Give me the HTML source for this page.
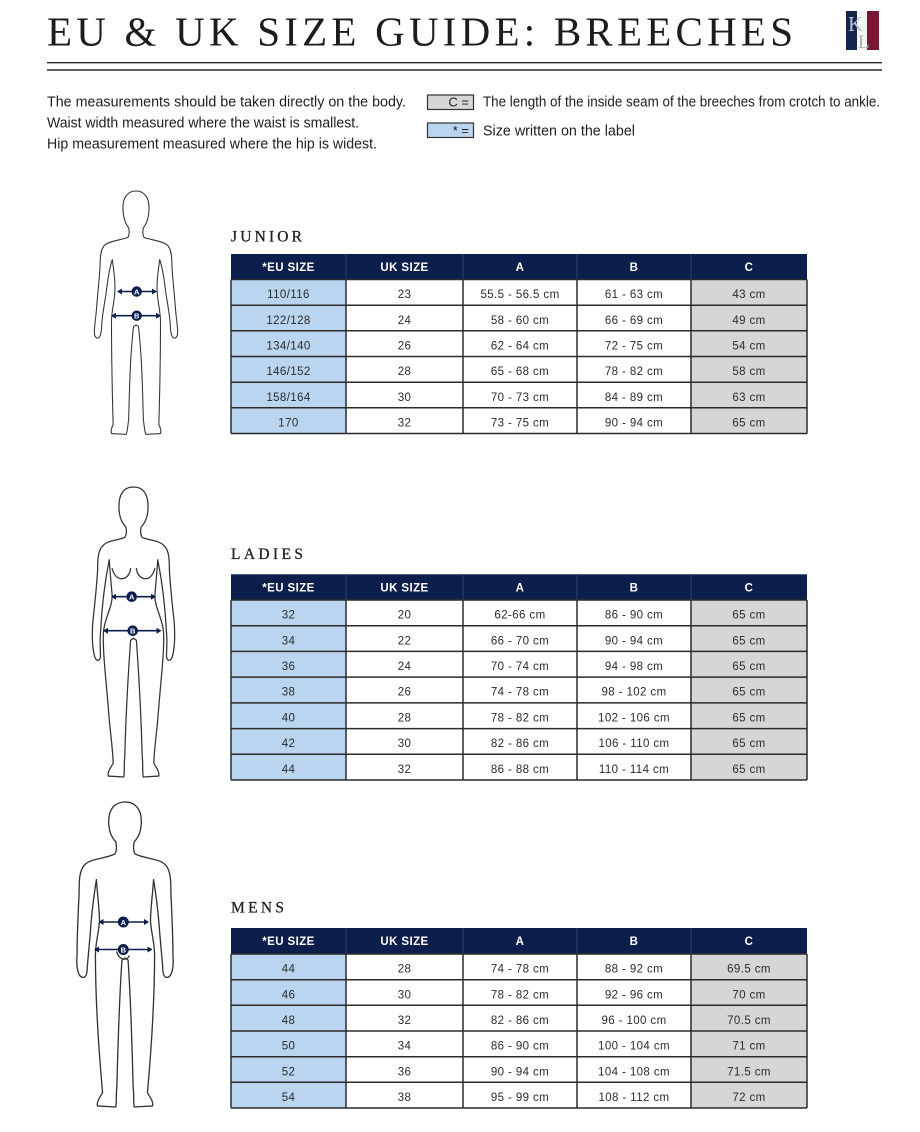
<!DOCTYPE html>
<html><head><meta charset="utf-8"><style>
html,body{margin:0;padding:0;background:#fff;}
svg{display:block;}
.c{font-family:"Liberation Sans",sans-serif;font-size:11.5px;fill:#2b2b2b;text-anchor:middle;letter-spacing:0.4px;}
.h{font-family:"Liberation Sans",sans-serif;font-size:11.5px;font-weight:bold;fill:#fff;text-anchor:middle;letter-spacing:0.4px;}
.b{font-family:"Liberation Sans",sans-serif;font-size:15px;fill:#1e1e1e;}
.sec{font-family:"Liberation Serif",serif;font-size:15.5px;fill:#222;stroke:#222;stroke-width:0.3;}
.fig{fill:none;stroke:#333;stroke-width:1.3;stroke-linejoin:round;stroke-linecap:round;}
.hl{stroke:#2b2b2b;stroke-width:1.5;}
.hv{stroke:#33416b;stroke-width:1;}
.ar{stroke:#0c1e4c;stroke-width:1.6;}
.at{fill:#0c1e4c;}
.al{font-family:"Liberation Sans",sans-serif;font-size:7.5px;font-weight:bold;fill:#fff;text-anchor:middle;}
</style></head><body>
<svg width="920" height="1132" viewBox="0 0 920 1132" xmlns="http://www.w3.org/2000/svg">
<defs>
<path id="fJ" d="M0,0 C10,0 16,8 16,20 C16,32 13,40 9,45 C8,50 8,54 10,57 C18,60 32,61 38,66 C43,70 44,80 44,92 C45,110 47,125 48,140 C49,155 51,165 51,172 C51,179 48,182 45,179 C43,176 42,170 42,164 C41,150 39,140 37,128 C35,112 33,96 29,84 C27,100 25,112 26,125 C27,138 30,148 30,160 C30,200 29,250 28,286 C30,290 31,294 30,297 L12,298 C10,292 10,286 9,280 C8,240 7,200 3,166 L0,164"/>
<path id="fL" d="M0,0 C10,0 15,7 15,20 C15,30 12,37 8,41 C7,45 7,49 9,52 C16,55 26,55 31,60 C36,64 37,72 37,85 C38,105 40,120 42,140 C43,155 42,168 40,175 C38,180 35,180 34,175 C34,168 35,160 34,150 C33,130 31,105 25,75 C24,90 23,100 22,112 C22,125 30,135 31,150 C32,170 28,200 25,240 C23,260 21,275 21,285 C24,290 27,294 26,298 L10,299 C9,292 10,286 9,278 C8,240 6,200 3,158 L0,156 M3,84 C4,96 18,100 22,84"/>
<path id="fM" d="M0,0 C10,0 16,7 16,19 C16,28 13,35 9,39 C8,44 8,48 10,51 C20,56 34,55 40,62 C45,68 45,78 45,90 C46,110 47,135 47,150 C48,162 46,172 41,172 C38,172 37,168 37,162 C36,150 35,140 34,128 C33,112 31,95 28,76 C27,92 25,105 25,117 C26,130 29,138 29,150 C29,190 26,240 22,285 C25,290 28,294 27,298 L9,299 C8,293 9,287 8,280 C7,240 6,200 3,155 L0,153"/>
</defs>

<!-- Title -->
<text x="47" y="45.7" font-family="Liberation Serif, serif" font-size="41" fill="#1c1c1c" textLength="746" lengthAdjust="spacing">EU &amp; UK SIZE GUIDE: BREECHES</text>
<!-- Logo -->
<rect x="846" y="11" width="11" height="39" fill="#14244f"/>
<rect x="857" y="11" width="10" height="39" fill="#f4f4f4"/>
<rect x="867" y="11" width="12" height="39" fill="#7a1632"/>
<text x="848" y="31" font-family="Liberation Serif, serif" font-size="21" fill="#b9c3d6">K</text>
<text x="858" y="48" font-family="Liberation Serif, serif" font-size="19" fill="#a9aebb">L</text>
<!-- Rules -->
<line x1="47" y1="62.7" x2="882" y2="62.7" stroke="#2a2a2a" stroke-width="1.4"/>
<line x1="47" y1="70" x2="882" y2="70" stroke="#2a2a2a" stroke-width="1.4"/>

<!-- Intro text -->
<text class="b" x="47" y="106.5" textLength="359" lengthAdjust="spacingAndGlyphs">The measurements should be taken directly on the body.</text>
<text class="b" x="47" y="127.5" textLength="312" lengthAdjust="spacingAndGlyphs">Waist width measured where the waist is smallest.</text>
<text class="b" x="47" y="148.5" textLength="330" lengthAdjust="spacingAndGlyphs">Hip measurement measured where the hip is widest.</text>

<rect x="427.5" y="95" width="46" height="14.5" fill="#d6d6d6" stroke="#333" stroke-width="1.2"/>
<text x="469" y="106.5" font-family="Liberation Sans, sans-serif" font-size="13" fill="#1e1e1e" text-anchor="end">C =</text>
<rect x="427.5" y="123" width="46" height="14.5" fill="#b9d5f0" stroke="#333" stroke-width="1.2"/>
<text x="469" y="135" font-family="Liberation Sans, sans-serif" font-size="13" fill="#1e1e1e" text-anchor="end">* =</text>
<text class="b" x="483" y="106.5" textLength="397" lengthAdjust="spacingAndGlyphs">The length of the inside seam of the breeches from crotch to ankle.</text>
<text class="b" x="483" y="135.5" textLength="152" lengthAdjust="spacingAndGlyphs">Size written on the label</text>

<!-- Figures -->
<g transform="translate(136,191) scale(0.8167)">
<use href="#fJ" class="fig" style="vector-effect:non-scaling-stroke"/>
<use href="#fJ" class="fig" transform="scale(-1,1)" style="vector-effect:non-scaling-stroke"/>
</g>
<g transform="translate(133.5,487) scale(0.97)">
<use href="#fL" class="fig" style="vector-effect:non-scaling-stroke"/>
<use href="#fL" class="fig" transform="scale(-1,1)" style="vector-effect:non-scaling-stroke"/>
</g>
<g transform="translate(125,802) scale(1.02)">
<use href="#fM" class="fig" style="vector-effect:non-scaling-stroke"/>
<use href="#fM" class="fig" transform="scale(-1,1)" style="vector-effect:non-scaling-stroke"/>
<path class="fig" style="vector-effect:non-scaling-stroke" d="M-8,147 C-6,155 2,156 4,151"/>
</g>

<!-- Arrows junior -->
<line class="ar" x1="118" y1="291.5" x2="156" y2="291.5"/>
<path class="at" d="M117,291.5 l5,-3 v6 z M157,291.5 l-5,-3 v6 z"/>
<circle cx="136.7" cy="291.5" r="5.2" class="at"/>
<text class="al" x="136.7" y="294.3">A</text>
<line class="ar" x1="112" y1="315.7" x2="160" y2="315.7"/>
<path class="at" d="M111,315.7 l5,-3 v6 z M161,315.7 l-5,-3 v6 z"/>
<circle cx="136.7" cy="315.7" r="5.2" class="at"/>
<text class="al" x="136.7" y="318.5">B</text>
<!-- Arrows ladies -->
<line class="ar" x1="112" y1="596.7" x2="155" y2="596.7"/>
<path class="at" d="M111,596.7 l5,-3 v6 z M156,596.7 l-5,-3 v6 z"/>
<circle cx="131.7" cy="596.7" r="5.3" class="at"/>
<text class="al" x="131.7" y="599.5">A</text>
<line class="ar" x1="104" y1="630.7" x2="160.5" y2="630.7"/>
<path class="at" d="M103,630.7 l5,-3 v6 z M161.5,630.7 l-5,-3 v6 z"/>
<circle cx="132.7" cy="630.7" r="5.3" class="at"/>
<text class="al" x="132.7" y="633.5">B</text>
<!-- Arrows mens -->
<line class="ar" x1="99.5" y1="922" x2="148" y2="922"/>
<path class="at" d="M98.5,922 l5,-3 v6 z M149,922 l-5,-3 v6 z"/>
<circle cx="123.3" cy="922" r="5.5" class="at"/>
<text class="al" x="123.3" y="924.8">A</text>
<line class="ar" x1="95" y1="949.5" x2="151.5" y2="949.5"/>
<path class="at" d="M94,949.5 l5,-3 v6 z M152.5,949.5 l-5,-3 v6 z"/>
<circle cx="123.3" cy="949.5" r="5.5" class="at"/>
<text class="al" x="123.3" y="952.3">B</text>

<!-- JUNIOR -->
<text class="sec" x="231" y="241.5" textLength="71" lengthAdjust="spacing">JUNIOR</text>
<rect x="231" y="254" width="576" height="25.5" fill="#0c1e4c"/>
<rect x="231" y="279.5" width="115" height="154" fill="#b9d5f0"/>
<rect x="691" y="279.5" width="116" height="154" fill="#d6d6d6"/>
<g class="hv"><line x1="346" y1="254" x2="346" y2="279.5"/><line x1="463" y1="254" x2="463" y2="279.5"/><line x1="577" y1="254" x2="577" y2="279.5"/><line x1="691" y1="254" x2="691" y2="279.5"/></g>
<g class="hl">
<line x1="231" y1="279.5" x2="807" y2="279.5"/><line x1="231" y1="305.2" x2="807" y2="305.2"/><line x1="231" y1="330.8" x2="807" y2="330.8"/><line x1="231" y1="356.5" x2="807" y2="356.5"/><line x1="231" y1="382.2" x2="807" y2="382.2"/><line x1="231" y1="407.8" x2="807" y2="407.8"/><line x1="231" y1="433.5" x2="807" y2="433.5"/>
<line x1="231" y1="279.5" x2="231" y2="433.5"/><line x1="346" y1="279.5" x2="346" y2="433.5"/><line x1="463" y1="279.5" x2="463" y2="433.5"/><line x1="577" y1="279.5" x2="577" y2="433.5"/><line x1="691" y1="279.5" x2="691" y2="433.5"/><line x1="807" y1="279.5" x2="807" y2="433.5"/>
</g>
<text class="h" x="288.5" y="271">*EU SIZE</text><text class="h" x="404.5" y="271">UK SIZE</text><text class="h" x="520" y="271">A</text><text class="h" x="634" y="271">B</text><text class="h" x="749" y="271">C</text>
<text class="c" x="288.5" y="298.1">110/116</text><text class="c" x="404.5" y="298.1">23</text><text class="c" x="520" y="298.1">55.5 - 56.5 cm</text><text class="c" x="634" y="298.1">61 - 63 cm</text><text class="c" x="749" y="298.1">43 cm</text>
<text class="c" x="288.5" y="323.8">122/128</text><text class="c" x="404.5" y="323.8">24</text><text class="c" x="520" y="323.8">58 - 60 cm</text><text class="c" x="634" y="323.8">66 - 69 cm</text><text class="c" x="749" y="323.8">49 cm</text>
<text class="c" x="288.5" y="349.4">134/140</text><text class="c" x="404.5" y="349.4">26</text><text class="c" x="520" y="349.4">62 - 64 cm</text><text class="c" x="634" y="349.4">72 - 75 cm</text><text class="c" x="749" y="349.4">54 cm</text>
<text class="c" x="288.5" y="375.1">146/152</text><text class="c" x="404.5" y="375.1">28</text><text class="c" x="520" y="375.1">65 - 68 cm</text><text class="c" x="634" y="375.1">78 - 82 cm</text><text class="c" x="749" y="375.1">58 cm</text>
<text class="c" x="288.5" y="400.8">158/164</text><text class="c" x="404.5" y="400.8">30</text><text class="c" x="520" y="400.8">70 - 73 cm</text><text class="c" x="634" y="400.8">84 - 89 cm</text><text class="c" x="749" y="400.8">63 cm</text>
<text class="c" x="288.5" y="426.4">170</text><text class="c" x="404.5" y="426.4">32</text><text class="c" x="520" y="426.4">73 - 75 cm</text><text class="c" x="634" y="426.4">90 - 94 cm</text><text class="c" x="749" y="426.4">65 cm</text>

<!-- LADIES -->
<text class="sec" x="231" y="559" textLength="72" lengthAdjust="spacing">LADIES</text>
<rect x="231" y="574.3" width="576" height="25.7" fill="#0c1e4c"/>
<rect x="231" y="600" width="115" height="180" fill="#b9d5f0"/>
<rect x="691" y="600" width="116" height="180" fill="#d6d6d6"/>
<g class="hv"><line x1="346" y1="574.3" x2="346" y2="600"/><line x1="463" y1="574.3" x2="463" y2="600"/><line x1="577" y1="574.3" x2="577" y2="600"/><line x1="691" y1="574.3" x2="691" y2="600"/></g>
<g class="hl">
<line x1="231" y1="600" x2="807" y2="600"/><line x1="231" y1="625.7" x2="807" y2="625.7"/><line x1="231" y1="651.4" x2="807" y2="651.4"/><line x1="231" y1="677.1" x2="807" y2="677.1"/><line x1="231" y1="702.9" x2="807" y2="702.9"/><line x1="231" y1="728.6" x2="807" y2="728.6"/><line x1="231" y1="754.3" x2="807" y2="754.3"/><line x1="231" y1="780" x2="807" y2="780"/>
<line x1="231" y1="600" x2="231" y2="780"/><line x1="346" y1="600" x2="346" y2="780"/><line x1="463" y1="600" x2="463" y2="780"/><line x1="577" y1="600" x2="577" y2="780"/><line x1="691" y1="600" x2="691" y2="780"/><line x1="807" y1="600" x2="807" y2="780"/>
</g>
<text class="h" x="288.5" y="591.3">*EU SIZE</text><text class="h" x="404.5" y="591.3">UK SIZE</text><text class="h" x="520" y="591.3">A</text><text class="h" x="634" y="591.3">B</text><text class="h" x="749" y="591.3">C</text>
<text class="c" x="288.5" y="618.6">32</text><text class="c" x="404.5" y="618.6">20</text><text class="c" x="520" y="618.6">62-66 cm</text><text class="c" x="634" y="618.6">86 - 90 cm</text><text class="c" x="749" y="618.6">65 cm</text>
<text class="c" x="288.5" y="644.3">34</text><text class="c" x="404.5" y="644.3">22</text><text class="c" x="520" y="644.3">66 - 70 cm</text><text class="c" x="634" y="644.3">90 - 94 cm</text><text class="c" x="749" y="644.3">65 cm</text>
<text class="c" x="288.5" y="670">36</text><text class="c" x="404.5" y="670">24</text><text class="c" x="520" y="670">70 - 74 cm</text><text class="c" x="634" y="670">94 - 98 cm</text><text class="c" x="749" y="670">65 cm</text>
<text class="c" x="288.5" y="695.7">38</text><text class="c" x="404.5" y="695.7">26</text><text class="c" x="520" y="695.7">74 - 78 cm</text><text class="c" x="634" y="695.7">98 - 102 cm</text><text class="c" x="749" y="695.7">65 cm</text>
<text class="c" x="288.5" y="721.5">40</text><text class="c" x="404.5" y="721.5">28</text><text class="c" x="520" y="721.5">78 - 82 cm</text><text class="c" x="634" y="721.5">102 - 106 cm</text><text class="c" x="749" y="721.5">65 cm</text>
<text class="c" x="288.5" y="747.2">42</text><text class="c" x="404.5" y="747.2">30</text><text class="c" x="520" y="747.2">82 - 86 cm</text><text class="c" x="634" y="747.2">106 - 110 cm</text><text class="c" x="749" y="747.2">65 cm</text>
<text class="c" x="288.5" y="772.9">44</text><text class="c" x="404.5" y="772.9">32</text><text class="c" x="520" y="772.9">86 - 88 cm</text><text class="c" x="634" y="772.9">110 - 114 cm</text><text class="c" x="749" y="772.9">65 cm</text>

<!-- MENS -->
<text class="sec" x="231" y="912.3" textLength="53" lengthAdjust="spacing">MENS</text>
<rect x="231" y="928" width="576" height="26" fill="#0c1e4c"/>
<rect x="231" y="954" width="115" height="154" fill="#b9d5f0"/>
<rect x="691" y="954" width="116" height="154" fill="#d6d6d6"/>
<g class="hv"><line x1="346" y1="928" x2="346" y2="954"/><line x1="463" y1="928" x2="463" y2="954"/><line x1="577" y1="928" x2="577" y2="954"/><line x1="691" y1="928" x2="691" y2="954"/></g>
<g class="hl">
<line x1="231" y1="954" x2="807" y2="954"/><line x1="231" y1="979.7" x2="807" y2="979.7"/><line x1="231" y1="1005.3" x2="807" y2="1005.3"/><line x1="231" y1="1031" x2="807" y2="1031"/><line x1="231" y1="1056.7" x2="807" y2="1056.7"/><line x1="231" y1="1082.3" x2="807" y2="1082.3"/><line x1="231" y1="1108" x2="807" y2="1108"/>
<line x1="231" y1="954" x2="231" y2="1108"/><line x1="346" y1="954" x2="346" y2="1108"/><line x1="463" y1="954" x2="463" y2="1108"/><line x1="577" y1="954" x2="577" y2="1108"/><line x1="691" y1="954" x2="691" y2="1108"/><line x1="807" y1="954" x2="807" y2="1108"/>
</g>
<text class="h" x="288.5" y="945">*EU SIZE</text><text class="h" x="404.5" y="945">UK SIZE</text><text class="h" x="520" y="945">A</text><text class="h" x="634" y="945">B</text><text class="h" x="749" y="945">C</text>
<text class="c" x="288.5" y="972.6">44</text><text class="c" x="404.5" y="972.6">28</text><text class="c" x="520" y="972.6">74 - 78 cm</text><text class="c" x="634" y="972.6">88 - 92 cm</text><text class="c" x="749" y="972.6">69.5 cm</text>
<text class="c" x="288.5" y="998.3">46</text><text class="c" x="404.5" y="998.3">30</text><text class="c" x="520" y="998.3">78 - 82 cm</text><text class="c" x="634" y="998.3">92 - 96 cm</text><text class="c" x="749" y="998.3">70 cm</text>
<text class="c" x="288.5" y="1023.9">48</text><text class="c" x="404.5" y="1023.9">32</text><text class="c" x="520" y="1023.9">82 - 86 cm</text><text class="c" x="634" y="1023.9">96 - 100 cm</text><text class="c" x="749" y="1023.9">70.5 cm</text>
<text class="c" x="288.5" y="1049.6">50</text><text class="c" x="404.5" y="1049.6">34</text><text class="c" x="520" y="1049.6">86 - 90 cm</text><text class="c" x="634" y="1049.6">100 - 104 cm</text><text class="c" x="749" y="1049.6">71 cm</text>
<text class="c" x="288.5" y="1075.3">52</text><text class="c" x="404.5" y="1075.3">36</text><text class="c" x="520" y="1075.3">90 - 94 cm</text><text class="c" x="634" y="1075.3">104 - 108 cm</text><text class="c" x="749" y="1075.3">71.5 cm</text>
<text class="c" x="288.5" y="1100.9">54</text><text class="c" x="404.5" y="1100.9">38</text><text class="c" x="520" y="1100.9">95 - 99 cm</text><text class="c" x="634" y="1100.9">108 - 112 cm</text><text class="c" x="749" y="1100.9">72 cm</text>
</svg>
</body></html>
